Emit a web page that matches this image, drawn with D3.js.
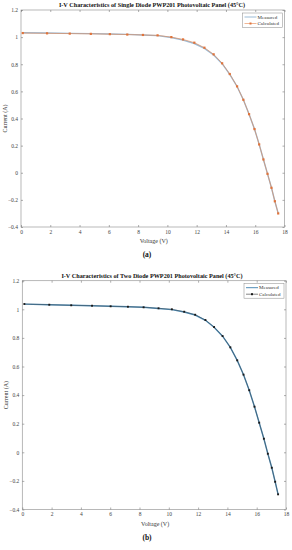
<!DOCTYPE html>
<html>
<head>
<meta charset="utf-8">
<script src="https://cdn.jsdelivr.net/npm/d3@7"></script>
<style>
body { margin: 0; background: #fff; }
svg { display: block; }
text { font-family: "Liberation Serif", "Times New Roman", serif; }
</style>
</head>
<body>
<svg id="chart"></svg>
<script>
//data
const voltageA = [0.12, 1.78, 3.33, 4.77, 6.07, 7.26, 8.33, 9.33, 10.27, 11.07, 11.84, 12.53, 13.16,
    13.74, 14.26, 14.76, 15.19, 15.58, 15.95, 16.27, 16.56, 16.84, 17.11, 17.34, 17.57];
const calculatedA = [1.030, 1.028, 1.026, 1.024, 1.022, 1.019, 1.016, 1.013, 1.000, 0.983, 0.959, 0.922, 0.873,
    0.807, 0.728, 0.637, 0.538, 0.432, 0.322, 0.209, 0.098, -0.008, -0.111, -0.210, -0.300];
const measuredA = [1.032, 1.030, 1.028, 1.026, 1.023, 1.020, 1.016, 1.011, 0.997, 0.978, 0.953, 0.917, 0.868,
    0.804, 0.726, 0.636, 0.538, 0.432, 0.322, 0.209, 0.098, -0.008, -0.111, -0.210, -0.300];

const voltageB = [0.14, 1.84, 3.34, 4.76, 6.03, 7.21, 8.28, 9.30, 10.21, 11.05, 11.80, 12.50, 13.09,
    13.67, 14.20, 14.67, 15.10, 15.49, 15.85, 16.17, 16.49, 16.76, 17.03, 17.26, 17.46];
const calculatedB = [1.037, 1.032, 1.028, 1.025, 1.021, 1.018, 1.014, 1.007, 1.000, 0.983, 0.962, 0.925, 0.876,
    0.813, 0.734, 0.643, 0.543, 0.434, 0.319, 0.207, 0.095, -0.010, -0.108, -0.206, -0.294];
const measuredB = [1.036, 1.032, 1.028, 1.025, 1.021, 1.018, 1.014, 1.006, 0.998, 0.981, 0.960, 0.923, 0.875,
    0.812, 0.734, 0.643, 0.543, 0.434, 0.319, 0.207, 0.095, -0.010, -0.108, -0.206, -0.294];

const xTicks = [0, 2, 4, 6, 8, 10, 12, 14, 16, 18];
const yTicks = [-0.4, -0.2, 0, 0.2, 0.4, 0.6, 0.8, 1, 1.2];
const seriesNames = ["Measured", "Calculated"];

const titleA = "I-V Characteristics of Single Diode PWP201 Photovoltaic Panel (45\u00B0C)";
const titleB = "I-V Characteristics of Two Diode PWP201 Photovoltaic Panel (45\u00B0C)";

//canvas
const svg = d3.select("#chart")
    .attr("width", 292)
    .attr("height", 550);

function drawPanel(p) {

    //scales
    let xScale = d3.scaleLinear()
        .domain([0, 18])
        .range([p.left, p.right]);

    let yScale = d3.scaleLinear()
        .domain([-0.4, 1.2])
        .range([p.bottom, p.top]);

    let g = svg.append("g");

    //box
    g.append("rect")
        .attr("x", p.left)
        .attr("y", p.top)
        .attr("width", p.right - p.left)
        .attr("height", p.bottom - p.top)
        .attr("fill", "#fff")
        .attr("stroke", "#9a9a9a")
        .attr("stroke-width", 0.7);

    //axes (ticks inside, on all sides)
    let fmt = d => d3.format("~g")(d);

    g.append("g")
        .attr("transform", "translate(0," + p.bottom + ")")
        .call(d3.axisBottom(xScale).tickValues(xTicks).tickFormat(fmt).tickSizeInner(-2).tickSizeOuter(0).tickPadding(3))
        .call(a => a.select(".domain").remove());

    g.append("g")
        .attr("transform", "translate(0," + p.top + ")")
        .call(d3.axisTop(xScale).tickValues(xTicks).tickFormat("").tickSizeInner(-2).tickSizeOuter(0))
        .call(a => a.select(".domain").remove());

    g.append("g")
        .attr("transform", "translate(" + p.left + ",0)")
        .call(d3.axisLeft(yScale).tickValues(yTicks).tickFormat(fmt).tickSizeInner(-2).tickSizeOuter(0).tickPadding(3))
        .call(a => a.select(".domain").remove());

    g.append("g")
        .attr("transform", "translate(" + p.right + ",0)")
        .call(d3.axisRight(yScale).tickValues(yTicks).tickFormat("").tickSizeInner(-2).tickSizeOuter(0))
        .call(a => a.select(".domain").remove());

    g.selectAll(".tick line").attr("stroke", "#777").attr("stroke-width", 0.6);
    g.selectAll(".tick text")
        .attr("fill", "#444")
        .style("font-family", "Liberation Serif")
        .style("font-size", "5.5px");

    //lines
    let line = d3.line()
        .x(d => xScale(d[0]))
        .y(d => yScale(d[1]));

    let measured = p.voltage.map((v, i) => [v, p.measured[i]]);
    let calculated = p.voltage.map((v, i) => [v, p.calculated[i]]);

    g.append("path")
        .datum(measured)
        .attr("d", line)
        .attr("fill", "none")
        .attr("stroke", p.measuredColor)
        .attr("stroke-width", 1.4);

    g.append("path")
        .datum(calculated)
        .attr("d", line)
        .attr("fill", "none")
        .attr("stroke", p.calcColor)
        .attr("stroke-width", p.calcWidth);

    g.selectAll(".marker")
        .data(calculated)
        .enter()
        .append("rect")
        .attr("x", d => xScale(d[0]) - p.markerSize / 2)
        .attr("y", d => yScale(d[1]) - p.markerSize / 2)
        .attr("width", p.markerSize)
        .attr("height", p.markerSize)
        .attr("fill", p.markerColor);

    //title
    g.append("text")
        .attr("x", p.titleX)
        .attr("y", p.top - 3)
        .attr("text-anchor", "middle")
        .style("font-size", "6.2px")
        .style("font-weight", "bold")
        .attr("fill", "#111")
        .text(p.title);

    //axis labels
    g.append("text")
        .attr("x", (p.left + p.right) / 2 + 1)
        .attr("y", p.bottom + 16)
        .attr("text-anchor", "middle")
        .style("font-size", "6px")
        .attr("fill", "#333")
        .text("Voltage (V)");

    g.append("text")
        .attr("transform", "translate(" + (p.left - 14.5) + "," + ((p.top + p.bottom) / 2) + ") rotate(-90)")
        .attr("text-anchor", "middle")
        .style("font-size", "6px")
        .attr("fill", "#333")
        .text("Current (A)");

    //panel letter
    g.append("text")
        .attr("x", 147)
        .attr("y", p.letterY)
        .attr("text-anchor", "middle")
        .style("font-size", "7.5px")
        .style("font-weight", "bold")
        .attr("fill", "#111")
        .text(p.letter);

    //legend
    let lx = p.right - 42, ly = p.top + 3;
    g.append("rect")
        .attr("x", lx)
        .attr("y", ly)
        .attr("width", 40)
        .attr("height", 14.5)
        .attr("fill", "#fff")
        .attr("stroke", "#888")
        .attr("stroke-width", 0.5);

    seriesNames.forEach((name, i) => {
        let yy = ly + 4 + i * 6.5;
        g.append("line")
            .attr("x1", lx + 2).attr("x2", lx + 14)
            .attr("y1", yy).attr("y2", yy)
            .attr("stroke", i == 0 ? p.measuredColor : p.calcColor)
            .attr("stroke-width", i == 0 ? 1 : 0.6);
        if (i == 1) {
            g.append("rect")
                .attr("x", lx + 7).attr("y", yy - 1)
                .attr("width", 2).attr("height", 2)
                .attr("fill", p.markerColor);
        }
        g.append("text")
            .attr("x", lx + 15)
            .attr("y", yy + 1.7)
            .style("font-size", "5px")
            .attr("fill", "#333")
            .text(name);
    });
}

drawPanel({
    left: 21, right: 284.5, top: 10, bottom: 227,
    voltage: voltageA, measured: measuredA, calculated: calculatedA,
    measuredColor: "#9bbbd6", calcColor: "#e8874f", markerColor: "#e0733a",
    calcWidth: 0.6, markerSize: 2.2,
    title: titleA, titleX: 152, letter: "(a)", letterY: 257
});

drawPanel({
    left: 22.3, right: 286, top: 280.7, bottom: 509.5,
    voltage: voltageB, measured: measuredB, calculated: calculatedB,
    measuredColor: "#4f8cb5", calcColor: "#333", markerColor: "#1a1a1a",
    calcWidth: 0.4, markerSize: 1.9,
    title: titleB, titleX: 152, letter: "(b)", letterY: 540
});
</script>
</body>
</html>
